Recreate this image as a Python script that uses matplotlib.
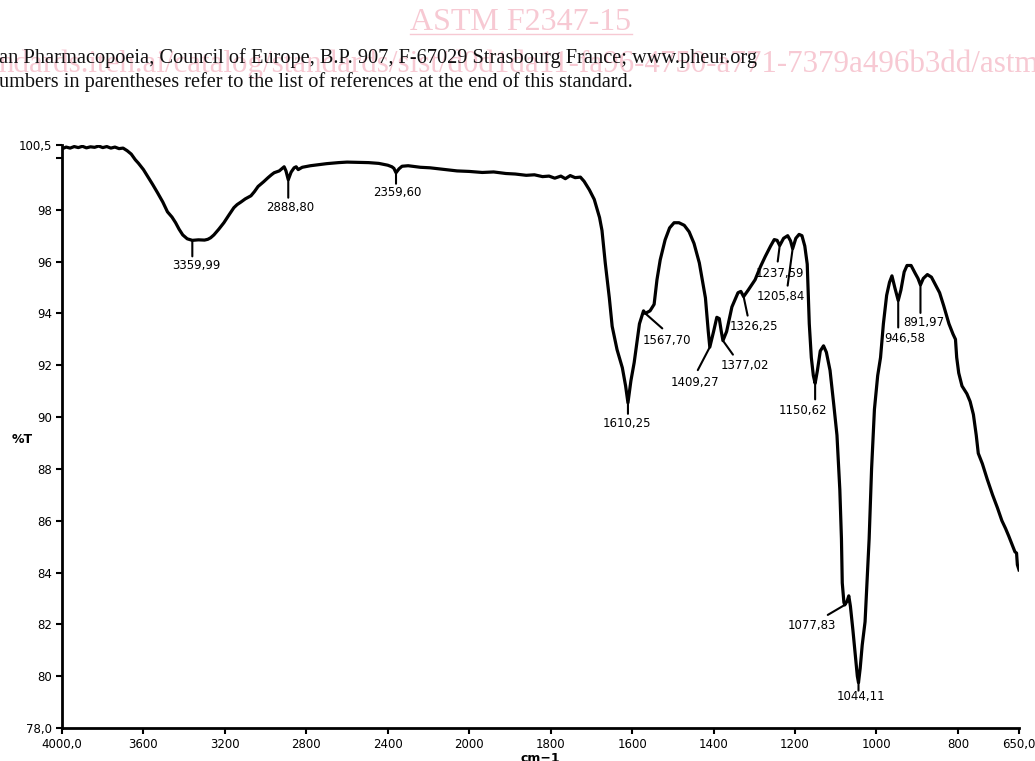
import numpy as np
import matplotlib
matplotlib.use("Agg")
import matplotlib.pyplot as plt
from matplotlib.ticker import FixedLocator, FuncFormatter

# spectrum (wavenumber cm-1, %T)
wavenumber = [4000, 3980, 3960, 3940, 3920, 3900, 3880, 3860, 3840, 3820, 3800, 3780, 3760, 3740, 3720, 3700,
              3680, 3660, 3640, 3625, 3600, 3580, 3555, 3531, 3505, 3482, 3460, 3442, 3425, 3407, 3385, 3359.99,
              3330, 3300, 3284, 3270, 3254, 3230, 3205, 3180, 3156, 3140, 3121, 3100, 3072, 3055, 3037, 3010,
              2988, 2970, 2958, 2933, 2909, 2900, 2888.80, 2875, 2860, 2850, 2840, 2820, 2780, 2741, 2700, 2642,
              2600, 2550, 2494, 2444, 2400, 2380, 2370, 2359.60, 2345, 2330, 2300, 2281, 2240, 2193, 2150, 2100,
              2060, 2000, 1968, 1940, 1910, 1887, 1860, 1840, 1820, 1804, 1790, 1775, 1764, 1752, 1740, 1727,
              1718, 1705, 1693, 1680, 1674, 1666, 1656, 1649, 1637, 1624, 1616, 1610.25, 1603, 1595, 1582, 1572,
              1567.70, 1556, 1546, 1539, 1531, 1519, 1508, 1497, 1485, 1472, 1460, 1448, 1435, 1420, 1413, 1409.27,
              1400, 1392, 1386, 1381, 1377.02, 1368, 1355, 1340, 1333, 1326.25, 1315, 1298, 1285, 1273, 1260, 1251,
              1244, 1237.59, 1228, 1218, 1211, 1205.84, 1198, 1190, 1183, 1176, 1170, 1165, 1160, 1155, 1150.62, 1145,
              1138, 1130, 1123, 1114, 1105, 1097, 1090, 1086, 1084, 1080, 1077.83, 1072, 1068, 1064, 1058, 1052,
              1047, 1044.11, 1040, 1035, 1028, 1022, 1018, 1012, 1005, 997, 990, 983, 975, 968, 962, 955,
              946.58, 940, 932, 925, 915, 905, 898, 891.97, 885, 875, 865, 855, 845, 835, 822, 812,
              806, 803, 798, 790, 778, 770, 762, 755, 750, 740, 728, 715, 703, 692, 683, 675,
              665, 660, 656, 654, 650]
transmittance = [100.35, 100.42, 100.38, 100.44, 100.40, 100.45, 100.39, 100.43, 100.41, 100.46, 100.40, 100.44, 100.38, 100.42, 100.36, 100.38,
                 100.28, 100.15, 99.93, 99.80, 99.55, 99.30, 98.98, 98.66, 98.30, 97.92, 97.72, 97.50, 97.25, 97.03, 96.88, 96.82,
                 96.84, 96.83, 96.86, 96.92, 97.03, 97.25, 97.50, 97.80, 98.08, 98.20, 98.30, 98.42, 98.54, 98.70, 98.90, 99.08,
                 99.24, 99.36, 99.43, 99.50, 99.66, 99.50, 99.16, 99.45, 99.62, 99.66, 99.55, 99.64, 99.70, 99.74, 99.78, 99.82,
                 99.84, 99.83, 99.82, 99.79, 99.72, 99.66, 99.60, 99.43, 99.58, 99.68, 99.70, 99.68, 99.64, 99.62, 99.58, 99.53,
                 99.50, 99.48, 99.44, 99.46, 99.40, 99.38, 99.33, 99.35, 99.28, 99.30, 99.22, 99.30, 99.20, 99.32, 99.24, 99.26,
                 99.10, 98.77, 98.40, 97.70, 97.20, 95.95, 94.60, 93.50, 92.60, 91.90, 91.20, 90.55, 91.40, 92.10, 93.60, 94.10,
                 94.00, 94.10, 94.35, 95.30, 96.07, 96.84, 97.30, 97.50, 97.50, 97.40, 97.15, 96.70, 95.95, 94.60, 93.30, 92.70,
                 93.30, 93.85, 93.80, 93.30, 92.95, 93.30, 94.25, 94.80, 94.85, 94.65, 94.90, 95.30, 95.80, 96.20, 96.60, 96.85,
                 96.82, 96.62, 96.90, 97.00, 96.80, 96.50, 96.90, 97.05, 97.00, 96.60, 95.90, 93.60, 92.30, 91.60, 91.30, 91.80,
                 92.55, 92.75, 92.50, 91.80, 90.50, 89.30, 87.20, 85.30, 83.60, 82.85, 82.75, 82.90, 83.10, 82.70, 81.80, 80.80,
                 80.00, 79.75, 80.30, 81.20, 82.10, 84.00, 85.30, 88.00, 90.30, 91.60, 92.30, 93.60, 94.70, 95.20, 95.45, 95.00,
                 94.50, 94.90, 95.60, 95.85, 95.85, 95.55, 95.35, 95.10, 95.35, 95.50, 95.40, 95.10, 94.80, 94.30, 93.60, 93.20,
                 93.00, 92.30, 91.70, 91.20, 90.90, 90.60, 90.10, 89.30, 88.60, 88.20, 87.60, 87.00, 86.50, 86.00, 85.70, 85.40,
                 85.00, 84.80, 84.75, 84.30, 84.10]

# labelled peaks
peak_wn = [3359.99, 2888.80, 2359.60, 1610.25, 1567.70, 1409.27, 1377.02, 1326.25,
           1237.59, 1205.84, 1150.62, 1077.83, 1044.11, 946.58, 891.97]
peak_text = ["3359,99", "2888,80", "2359,60", "1610,25", "1567,70", "1409,27", "1377,02", "1326,25",
             "1237,59", "1205,84", "1150,62", "1077,83", "1044,11", "946,58", "891,97"]
# (line end dx, dy, text dx, dy) in pixels relative to the peak
peak_offsets = [(0, -16, 4, -25), (0, -18, 2, -28), (0, -11, 1, -20), (0, -11, -1, -21),
                (17, -15, 22, -27), (-12, -23, -15, -35), (10, -14, 22, -25), (4, -19, 10, -30),
                (-2, -16, 0, -28), (-5, -37, -12, -48), (0, -16, -12, -27), (-17, -10, -33, -21),
                (0, -8, 2, -14), (0, -27, 7, -38), (0, -28, 3, -38)]

x_ticks = [4000, 3600, 3200, 2800, 2400, 2000, 1800, 1600, 1400, 1200, 1000, 800, 650]
y_ticks = [78, 80, 82, 84, 86, 88, 90, 92, 94, 96, 98, 100, 100.5]


# IR convention: scale doubles below 2000 cm-1
def fwd(x):
    x = np.asarray(x, dtype=float)
    return np.where(x >= 2000, x, 2 * x - 2000)


def inv(u):
    u = np.asarray(u, dtype=float)
    return np.where(u >= 2000, u, (u + 2000) / 2)


def xfmt(v, pos):
    if v in (4000, 650):
        return f"{v:.1f}".replace(".", ",")
    return f"{v:.0f}"


def yfmt(v, pos):
    if v == 100:
        return ""
    if v in (78, 100.5):
        return f"{v:.1f}".replace(".", ",")
    return f"{v:.0f}"


fig = plt.figure(figsize=(10.35, 7.61), dpi=100)

# page header around the figure (cut off like the scan)
fig.text(0.503, 1 - 22 / 761, "ASTM F2347-15", fontsize=23, family="Liberation Serif",
         color="#f7c9d3", ha="center", va="center")
fig.add_artist(plt.Line2D([410 / 1035, 632 / 1035], [1 - 34 / 761] * 2, color="#f7c9d3", lw=1))
fig.text(1.004, 1 - 64 / 761, "ndards.iteh.ai/catalog/standards/sist/d0d1da11-fa96-4750-a771-7379a496b3dd/astm",
         fontsize=22.3, family="Liberation Serif", color="#f7c9d3", ha="right", va="center")
fig.text(-0.001, 1 - 58 / 761,
         "an Pharmacopoeia, Council of Europe, B.P. 907, F-67029 Strasbourg France; www.pheur.org",
         fontsize=14.7, family="Liberation Serif", color="#111111", ha="left", va="center")
fig.text(-0.001, 1 - 82 / 761,
         "umbers in parentheses refer to the list of references at the end of this standard.",
         fontsize=14.6, family="Liberation Serif", color="#111111", ha="left", va="center")

ax = fig.add_axes([62 / 1035, 33 / 761, 957 / 1035, 583 / 761])
ax.set_xscale("function", functions=(fwd, inv))
ax.plot(wavenumber, transmittance, color="black", lw=2.3, solid_joinstyle="round")
ax.set_xlim(4000, 650)
ax.set_ylim(78, 100.5)

ax.xaxis.set_major_locator(FixedLocator(x_ticks))
ax.xaxis.set_major_formatter(FuncFormatter(xfmt))
ax.xaxis.set_minor_locator(FixedLocator([]))
ax.yaxis.set_major_locator(FixedLocator(y_ticks))
ax.yaxis.set_major_formatter(FuncFormatter(yfmt))
ax.tick_params(length=4, width=1.5, labelsize=8.5, pad=3)

for side in ["top", "right"]:
    ax.spines[side].set_visible(False)
for side in ["left", "bottom"]:
    ax.spines[side].set_linewidth(2)

wn_asc = np.array(wavenumber)[::-1]
t_asc = np.array(transmittance)[::-1]
for wn, txt, (lx, ly, tx, ty) in zip(peak_wn, peak_text, peak_offsets):
    yv = np.interp(wn, wn_asc, t_asc)
    ax.annotate("", xy=(wn, yv), xytext=(lx, ly), textcoords="offset pixels",
                arrowprops=dict(arrowstyle="-", lw=1.5, color="black", shrinkA=0, shrinkB=0))
    ax.annotate(txt, xy=(wn, yv), xytext=(tx, ty), textcoords="offset pixels",
                ha="center", va="center", fontsize=8.5)

fig.text(22 / 1035, 1 - 439 / 761, "%T", fontsize=9, fontweight="bold", ha="center", va="center")
fig.text(540 / 1035, 1 - 758 / 761, "cm\u22121", fontsize=9, fontweight="bold", ha="center", va="center")

fig.savefig("out.png", dpi=100)
